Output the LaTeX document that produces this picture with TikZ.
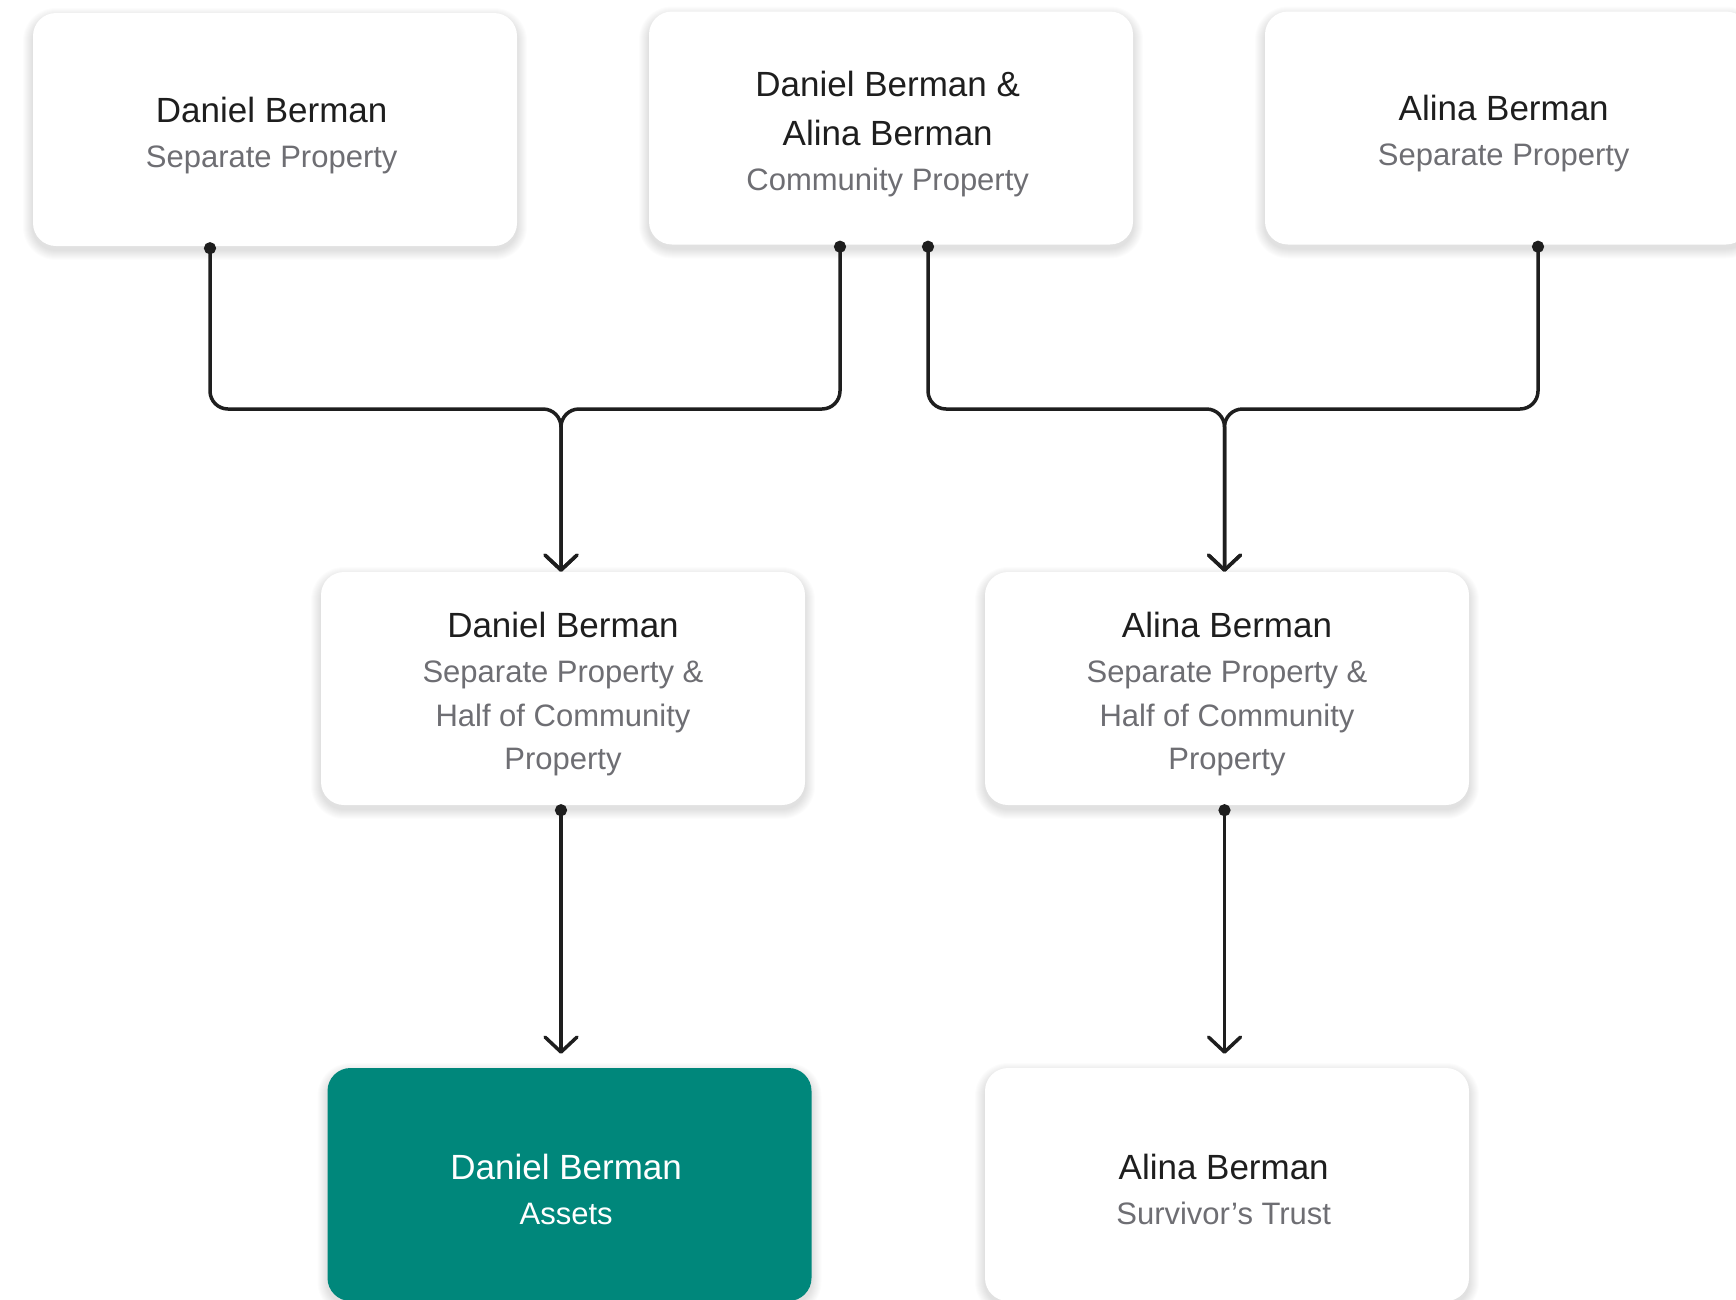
\documentclass[tikz,border=0pt]{standalone}
\usepackage{fontspec}
\setmainfont{Liberation Sans}
\usetikzlibrary{arrows.meta}
\definecolor{ink}{HTML}{1E1E1E}
\definecolor{subgray}{HTML}{6E6E73}
\definecolor{cardteal}{HTML}{00877B}
\newcommand\ttl[1]{{\fontsize{35}{44}\selectfont\color{ink}#1}}
\newcommand\ttw[1]{{\fontsize{35}{44}\selectfont#1}}
\begin{document}
\begin{tikzpicture}[x=1pt,y=-1pt,
  card/.style={rectangle, rounded corners=23pt, fill=white,
    minimum width=484pt, minimum height=233pt, inner sep=0pt},
  tealcard/.style={card, fill=cardteal},
  shadowlayer/.style={fill=black, fill opacity=0.010},
  txt/.style={align=center, inner sep=0pt, font=\fontsize{31}{44}\selectfont, text=subgray},
  conn/.style={draw=ink, line width=3.5pt, rounded corners=18pt,
    {Circle[length=12pt]}-{Straight Barb[length=15pt,width=32pt,round]}}
]
\useasboundingbox (0,0) rectangle (1736,1299);
\clip (0,0) rectangle (1736,1299);
\fill[white] (0,0) rectangle (1736,1299);

% soft shadows under the cards
\foreach \cx/\cy in {275/129.5, 891/128, 1507/128, 563/688.5, 1227/688.5, 569.5/1184.5, 1227/1184.5}{
  \foreach \i in {1,...,10}{
    \pgfmathsetmacro\rr{23+\i}
    \fill[shadowlayer, rounded corners=\rr pt]
      (\cx-242-\i, \cy-116.5-\i+5) rectangle (\cx+242+\i, \cy+116.5+\i+4);
  }
}

\node[card] (b1) at (275,129.5) {};
\node[card] (b2) at (891,128) {};
\node[card] (b3) at (1507,128) {};
\node[card] (b4) at (563,688.5) {};
\node[card] (b5) at (1227,688.5) {};
\node[tealcard] (b6) at (569.5,1184.5) {};
\node[card] (b7) at (1227,1184.5) {};

\node[txt] (t1) at ([shift={(-3.3,6)}]b1.center) {\ttl{Daniel Berman}\\[1pt]Separate Property};
\node[txt] (t2) at ([shift={(-3.3,6)}]b2.center) {\ttl{Daniel Berman \&}\\[4.7pt]\ttl{Alina Berman}\\[0.5pt]Community Property};
\node[txt] (t3) at ([shift={(-3.3,6)}]b3.center) {\ttl{Alina Berman}\\[1pt]Separate Property};
\node[txt] (t4) at ([shift={(0,6)}]b4.center) {\ttl{Daniel Berman}\\[1pt]Separate Property \&\\[-0.5pt]Half of Community\\[-0.5pt]Property};
\node[txt] (t5) at ([shift={(0,6)}]b5.center) {\ttl{Alina Berman}\\[1pt]Separate Property \&\\[-0.5pt]Half of Community\\[-0.5pt]Property};
\node[txt, text=white] (t6) at ([shift={(-3.3,5)}]b6.center) {\ttw{Daniel Berman}\\[1pt]Assets};
\node[txt] (t7) at ([shift={(-3.3,5)}]b7.center) {\ttl{Alina Berman}\\[1pt]Survivor’s Trust};

\coordinate (m1) at (561,409);
\coordinate (m2) at (1224.5,409);

\draw[conn] ([xshift=-65pt,yshift=4pt]b1.south) |- (m1) -- (b4.north -| m1);
\draw[conn] ([xshift=-51pt,yshift=4pt]b2.south) |- (m1) -- (b4.north -| m1);
\draw[conn] ([xshift=37pt,yshift=4pt]b2.south) |- (m2) -- (b5.north -| m2);
\draw[conn] ([xshift=31pt,yshift=4pt]b3.south) |- (m2) -- (b5.north -| m2);

\draw[conn] ([xshift=-2pt,yshift=1pt]b4.south) -- ([yshift=14pt]b6.north -| m1);
\draw[conn] ([xshift=-2.5pt,yshift=1pt]b5.south) -- ([yshift=14pt]b7.north -| m2);
\end{tikzpicture}
\end{document}
